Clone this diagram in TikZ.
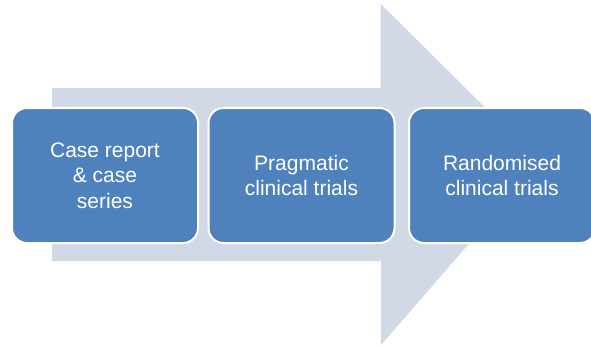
\documentclass[tikz,border=0pt]{standalone}
\usepackage{fontspec}
\setmainfont{Liberation Sans}
\definecolor{boxblue}{HTML}{4F81BD}
\definecolor{arrowgray}{HTML}{D1D9E7}
\begin{document}
\begin{tikzpicture}[x=1pt,y=-1pt,
  stagebox/.style={draw=white, line width=2pt, fill=boxblue, rounded corners=15pt,
    minimum width=186pt, minimum height=135pt, inner sep=0pt,
    text=white, align=center, font=\fontsize{21}{25.5}\selectfont}]
\useasboundingbox (0,0) rectangle (591,345);
\clip (0,0) rectangle (591,345);
\fill[arrowgray] (52,88) -- (380.7,88) -- (380.7,4) -- (540,162) -- (381,345) -- (381,261) -- (52,261) -- cycle;
\node[stagebox] (case) at (105,175.5) {Case report\\\& case\\series};
\node[stagebox] (prag) at (301.5,175.5) {Pragmatic\\clinical trials};
\node[stagebox] (rand) at (502,175.5) {Randomised\\clinical trials};
\end{tikzpicture}
\end{document}
